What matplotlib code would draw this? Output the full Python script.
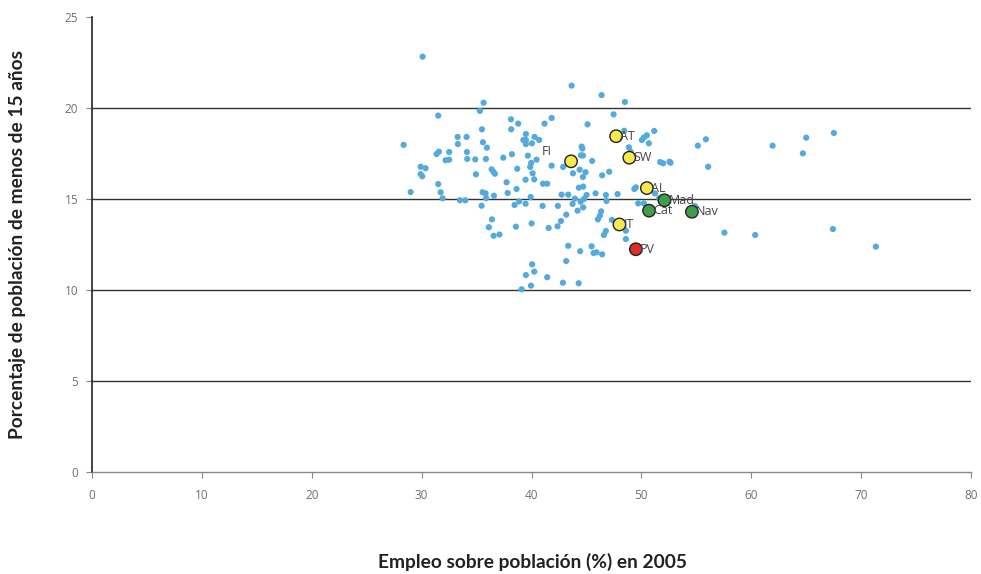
import matplotlib
matplotlib.use("Agg")
import matplotlib.pyplot as plt

plt.rcParams["font.family"] = ["Open Sans", "DejaVu Sans"]

# Blue dots: employment rate (%) vs share of population under 15 (%)
emp = [
    30.09, 43.65, 46.38, 48.50, 35.64, 35.30, 31.51, 47.47, 38.13, 38.79,
    41.19, 41.83, 45.10, 35.49, 38.15, 48.44, 51.17, 50.50, 39.49, 40.28,
    40.70, 39.26, 39.49, 39.49, 40.04, 33.28, 34.09, 33.30, 35.58, 35.94,
    28.36, 31.57, 31.36, 32.51, 34.12, 32.18, 32.51, 34.15, 34.88, 35.85,
    29.91, 30.36, 29.91, 30.05, 34.94, 36.37, 36.52, 36.67, 31.51, 29.00,
    31.73, 31.91, 33.49, 33.97, 35.55, 35.82, 35.88, 36.58, 35.46, 36.40,
    36.12, 36.55, 37.08, 44.56, 44.63, 44.50, 44.68, 38.22, 37.43, 39.67,
    40.46, 39.97, 39.88, 38.70, 41.83, 42.88, 44.38, 45.52, 43.77, 44.92,
    44.68, 46.43, 40.10, 40.25, 39.46, 37.73, 41.04, 41.43, 38.64, 44.31,
    44.70, 37.83, 38.88, 38.46, 39.46, 39.92, 41.01, 42.40, 42.74, 43.34,
    43.95, 44.47, 44.77, 45.01, 45.83, 43.74, 44.70, 44.19, 43.16, 42.68,
    42.37, 41.56, 40.01, 38.58, 46.34, 46.04, 46.59, 46.77, 43.34, 44.43,
    45.47, 45.65, 45.92, 46.43, 43.16, 40.06, 40.25, 39.49, 41.43, 42.86,
    44.29, 39.95, 39.10, 50.05, 50.23, 50.68, 48.86, 49.02, 51.71, 51.98,
    52.56, 52.65, 55.14, 55.87, 56.08, 47.07, 49.50, 49.36, 51.23, 47.83,
    46.77, 46.83, 49.71, 50.23, 51.62, 54.87, 46.22, 47.32, 48.59, 48.59,
    49.25, 57.56, 60.36, 61.94, 65.00, 64.70, 67.52, 67.43, 71.34,
]
young = [
    22.82, 21.23, 20.71, 20.33, 20.29, 19.84, 19.58, 19.65, 19.38, 19.14,
    19.14, 19.45, 19.10, 18.83, 18.83, 18.75, 18.74, 18.50, 18.57, 18.41,
    18.24, 18.24, 18.24, 18.01, 18.06, 18.41, 18.41, 18.02, 18.12, 17.82,
    17.97, 17.60, 17.47, 17.58, 17.58, 17.13, 17.16, 17.20, 17.18, 17.20,
    16.77, 16.69, 16.37, 16.25, 16.36, 16.63, 16.50, 16.39, 15.82, 15.38,
    15.37, 15.04, 14.93, 14.93, 15.37, 15.31, 15.05, 15.18, 14.63, 13.88,
    13.45, 12.98, 13.05, 17.88, 17.77, 17.40, 17.39, 17.46, 17.27, 17.38,
    17.16, 16.98, 16.76, 16.66, 16.83, 16.76, 16.61, 17.09, 16.41, 16.47,
    16.21, 16.30, 16.41, 16.08, 16.06, 15.92, 15.84, 15.84, 15.55, 15.62,
    15.68, 15.33, 14.87, 14.67, 14.74, 15.11, 14.62, 14.62, 15.24, 15.24,
    15.02, 14.85, 15.00, 15.22, 15.31, 14.73, 14.54, 14.36, 14.14, 13.79,
    13.50, 13.41, 13.66, 13.48, 14.32, 13.88, 13.02, 13.24, 12.43, 12.13,
    12.40, 12.03, 12.07, 11.96, 11.59, 11.41, 11.01, 10.82, 10.70, 10.40,
    10.37, 10.24, 10.04, 18.24, 18.38, 18.06, 17.84, 17.60, 17.03, 16.96,
    17.05, 16.99, 17.93, 18.28, 16.77, 16.50, 15.64, 15.55, 15.31, 15.27,
    15.22, 14.89, 14.76, 14.76, 15.04, 14.62, 14.08, 13.85, 13.26, 12.80,
    12.38, 13.15, 13.02, 17.93, 18.37, 17.51, 18.63, 13.35, 12.38,
]

# Highlighted regions
hl_names = ["FI", "AT", "SW", "AL", "IT", "Mad", "Cat", "Nav", "PV"]
hl_emp = [43.6, 47.7, 48.9, 50.5, 48.0, 52.1, 50.7, 54.6, 49.5]
hl_young = [17.07, 18.45, 17.27, 15.6, 13.6, 14.93, 14.36, 14.3, 12.24]
hl_colors = ["#f6e84f", "#f6e84f", "#f6e84f", "#f6e84f", "#f6e84f",
             "#3f9e4a", "#3f9e4a", "#3f9e4a", "#e12a2a"]

fig = plt.figure(figsize=(9.81, 5.74), dpi=100)
ax = fig.add_axes([92 / 981, 1 - 472 / 574, 879 / 981, 455 / 574])

ax.set_xlim(0, 80)
ax.set_ylim(0, 25)
ax.set_xticks(range(0, 81, 10))
ax.set_yticks(range(0, 26, 5))

for yv in (5, 10, 15, 20):
    ax.axhline(yv, color="#333333", linewidth=1.0, zorder=1)

ax.spines["top"].set_visible(False)
ax.spines["right"].set_visible(False)
ax.spines["left"].set_color("#222222")
ax.spines["left"].set_linewidth(1.2)
ax.spines["bottom"].set_color("#888888")
ax.spines["bottom"].set_linewidth(1.0)

ax.tick_params(axis="both", direction="out", length=4, width=0.8,
               colors="#888888", labelcolor="#707070", labelsize=8.5)
ax.tick_params(axis="x", pad=8)
ax.tick_params(axis="y", pad=6)

ax.scatter(emp, young, s=20, color="#55aadd", edgecolors="none", zorder=3)

ax.scatter(hl_emp, hl_young, s=80, c=hl_colors, edgecolors="#222222",
           linewidths=1.0, zorder=4)

for name, xv, yv in zip(hl_names, hl_emp, hl_young):
    if name == "FI":
        off = (-21, 7)
    else:
        off = (3, 0)
    ax.annotate(name, (xv, yv), xytext=off, textcoords="offset points",
                ha="left", va="center", fontsize=9, color="#444444", zorder=5)

label_font = ["Lato", "DejaVu Sans"]
fig.text(18 / 981, 1 - 245 / 574, "Porcentaje de población de menos de 15 años",
         rotation=90, ha="center", va="center", fontsize=13.8,
         fontweight="bold", color="#222222", family=label_font)
fig.text(533 / 981, 1 - 562 / 574, "Empleo sobre población (%) en 2005",
         ha="center", va="center", fontsize=13.8, fontweight="bold",
         color="#222222", family=label_font)

fig.savefig("out.png", dpi=100)
